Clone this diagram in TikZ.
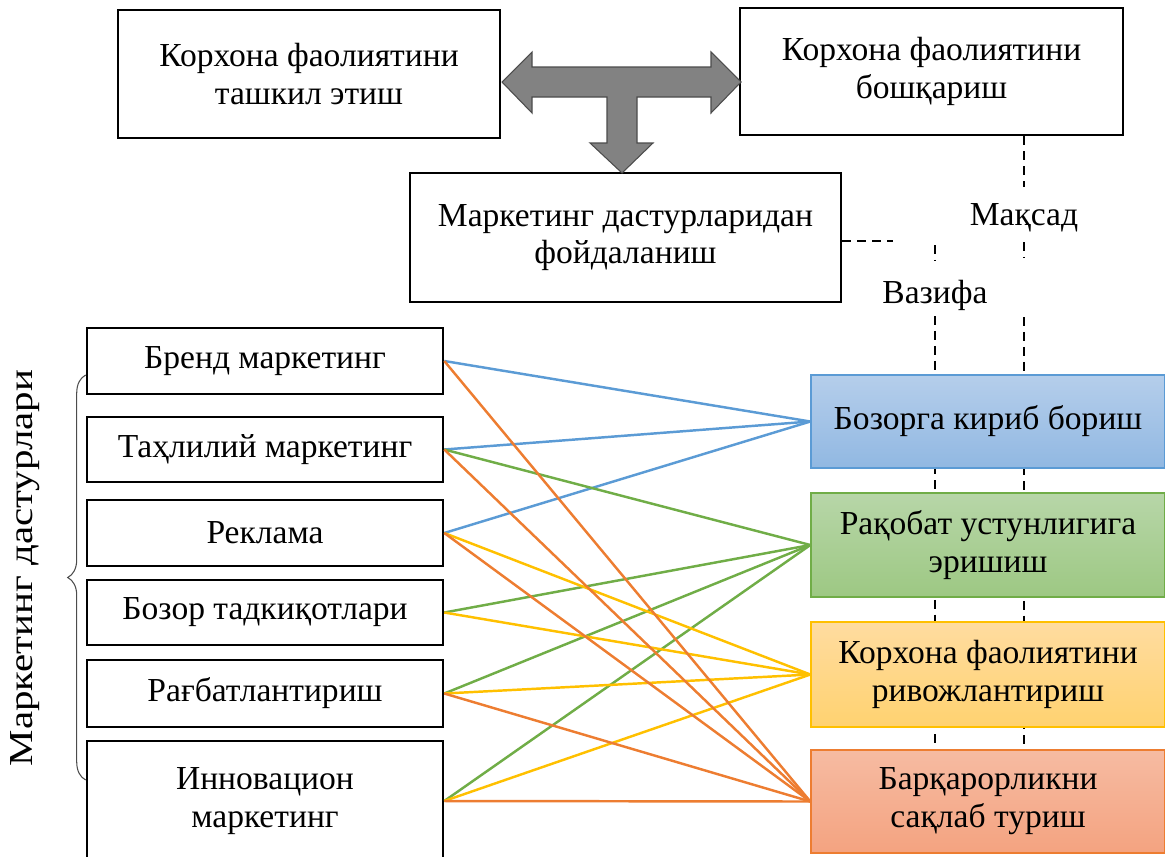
\documentclass[tikz,border=0pt]{standalone}
\usepackage{fontspec}
\setmainfont{Liberation Serif}
\usetikzlibrary{positioning,decorations.pathreplacing,backgrounds}
\definecolor{lnblue}{HTML}{5B9BD5}
\definecolor{lngreen}{HTML}{70AD47}
\definecolor{lnyellow}{HTML}{FFC000}
\definecolor{lnorange}{HTML}{ED7D31}
\tikzset{
  box_/.style   = {shape=rectangle, draw, line width=1.5pt, align=center, inner sep=0pt},
  prog_/.style  = {box_, minimum width=7.12cm},
  goal_/.style  = {shape=rectangle, align=center, line width=0.8pt, inner sep=0pt, minimum width=7.08cm},
  dash_/.style  = {draw, dashed, dash pattern=on 5pt off 3.5pt, line width=1.1pt},
  link_/.style  = {draw, line width=1.4pt}
}
\begin{document}
\begin{tikzpicture}
		[
		x = 0.02cm, y = -0.02cm,
		every node/.style = {font=\fontsize{19.1pt}{21.5pt}\selectfont}
		]
		\useasboundingbox (0,0) rectangle (1165,856);
		% top level
		\node [box_, minimum width=7.64cm, minimum height=2.56cm] (org) at (309,74) {Корхона фаолиятини\\ташкил этиш};
		\node [box_, minimum width=7.66cm, minimum height=2.54cm] (mng) at (931.5,71.5) {Корхона фаолиятини\\бошқариш};
		\node [box_, minimum width=8.62cm, minimum height=2.58cm] (use) at (625.5,237.5) {Маркетинг дастурларидан\\фойдаланиш};
		\draw [fill={rgb,255:red,130;green,130;blue,130}, draw=black!70, line width=0.6pt]
			(502,82) -- (532,52) -- (532,67) -- (711,67) -- (711,52) -- (741,82)
			-- (711,113) -- (711,97) -- (637,97) -- (637,143) -- (653,143) -- (622,173)
			-- (590,143) -- (607,143) -- (607,97) -- (532,97) -- (532,113) -- cycle;
		% programmes
		\node [prog_, minimum height=1.32cm] (p1) at (265,361)   {Бренд маркетинг};
		\node [prog_, minimum height=1.30cm] (p2) at (265,449.5) {Таҳлилий маркетинг};
		\node [prog_, minimum height=1.32cm] (p3) at (265,533)   {Реклама};
		\node [prog_, minimum height=1.30cm] (p4) at (265,612.5) {Бозор тадкиқотлари};
		\node [prog_, minimum height=1.34cm] (p5) at (265,693.5) {Рағбатлантириш};
		\node [prog_, minimum height=2.40cm] (p6) at (265,801) {Инновацион\\маркетинг};
		\draw [decorate, decoration={brace, amplitude=0.36cm}, draw=black!70, line width=0.6pt]
			(p6.west |- 0,780) -- (p1.west |- 0,375);
		\node [rotate=90] (lbl) at (25,568) {\scalebox{1.22}[1]{Маркетинг дастурлари}};
		% goals
		\node [goal_, draw=lnblue, top color={rgb,255:red,181;green,206;blue,235}, bottom color={rgb,255:red,145;green,184;blue,226}, minimum height=1.86cm] (g1) at (988,421.5) {Бозорга кириб бориш};
		\node [goal_, draw=lngreen, top color={rgb,255:red,183;green,214;blue,168}, bottom color={rgb,255:red,157;green,200;blue,131}, minimum height=2.08cm] (g2) at (988,545) {Рақобат устунлигига\\эришиш};
		\node [goal_, draw=lnyellow, top color={rgb,255:red,255;green,220;blue,160}, bottom color={rgb,255:red,255;green,210;blue,112}, minimum height=2.10cm] (g3) at (988,674.5) {Корхона фаолиятини\\ривожлантириш};
		\node [goal_, draw=lnorange, top color={rgb,255:red,246;green,187;blue,162}, bottom color={rgb,255:red,244;green,163;blue,128}, minimum height=2.06cm] (g4) at (988,801.5) {Барқарорликни\\сақлаб туриш};
		\node (aim)  at (1024,218) {Мақсад};
		\node (task) at (935,295)  {Вазифа};
		\begin{pgfonlayer}{background}
			\coordinate (u1) at (893,241);
			\draw [dash_] (use.east |- u1) -- (u1);
			\draw [dash_] (mng.south -| aim) -- (1024,187);
			\draw [dash_] (1024,242) -- (1024,258);
			\draw [dash_] (1024,317) -- (g4.north -| aim);
			\draw [dash_] (935,245) -- (935,260);
			\draw [dash_] (935,316) -- (g4.north -| task);
		\end{pgfonlayer}
		% links
		\foreach \p in {p1,p2,p3} \draw [link_, lnblue] (\p.east) -- (g1.west);
		\foreach \p in {p2,p4,p5,p6} \draw [link_, lngreen] (\p.east) -- (g2.west);
		\foreach \p in {p3,p4,p5,p6} \draw [link_, lnyellow] (\p.east) -- (g3.west);
		\foreach \p in {p1,p2,p3,p5,p6} \draw [link_, lnorange] (\p.east) -- (g4.west);
\end{tikzpicture}
\end{document}
